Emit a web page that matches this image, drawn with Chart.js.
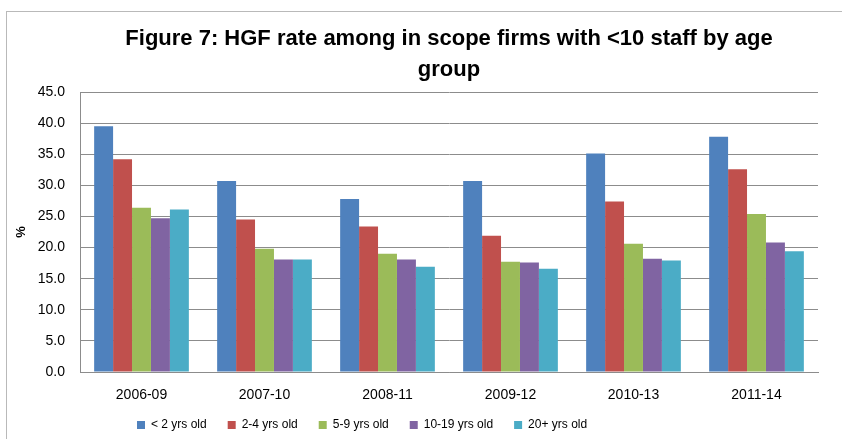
<!DOCTYPE html>
<html>
<head>
<meta charset="utf-8">
<script src="https://cdn.jsdelivr.net/npm/chart.js@4/dist/chart.umd.min.js"></script>
<style>
  html, body { margin: 0; padding: 0; background: #fff; }
  #frame {
    position: absolute; left: 6px; top: 11px;
    width: 836px; height: 428px;
    border-left: 1px solid #b9b9b9; border-top: 1px solid #b9b9b9;
  }
  #wrap { position: absolute; left: 0; top: 0; width: 835px; height: 427px; }
</style>
</head>
<body>
<div id="frame"><div id="wrap"><canvas id="grafico"></canvas></div></div>
<script>
// chart values
var periodos = ["2006-09", "2007-10", "2008-11", "2009-12", "2010-13", "2011-14"];
var menos2 = [39.5, 30.7, 27.8, 30.7, 35.1, 37.8];
var de2a4 = [34.2, 24.5, 23.4, 21.9, 27.4, 32.6];
var de5a9 = [26.4, 19.8, 19.0, 17.7, 20.6, 25.4];
var de10a19 = [24.7, 18.1, 18.1, 17.6, 18.2, 20.8];
var mais20 = [26.1, 18.1, 16.9, 16.6, 17.9, 19.4];
var titulo = ["Figure 7: HGF rate among in scope firms with <10 staff by age", "group"];

var sans = "'Liberation Sans', Arial, sans-serif";

// title centred over the plot area, like the spreadsheet does
var tituloPlugin = {
  id: "tituloPlugin",
  afterDraw: function(chart) {
    var ctx = chart.ctx;
    var meio = (chart.chartArea.left + chart.chartArea.right) / 2;
    ctx.save();
    ctx.fillStyle = "#000";
    ctx.font = "bold 22px " + sans;
    ctx.textAlign = "center";
    ctx.textBaseline = "alphabetic";
    ctx.fillText(titulo[0], meio, 33);
    ctx.fillText(titulo[1], meio, 64);
    ctx.restore();
  }
};

// legend sits left of centre and close under the axis labels in the original
var legendaPlugin = {
  id: "legendaPlugin",
  afterLayout: function(chart) {
    var lg = chart.legend;
    var w = lg.right - lg.left;
    var h = lg.bottom - lg.top;
    lg.left = 109;
    lg.right = lg.left + w;
    lg.top = 386;
    lg.bottom = lg.top + h;
  }
};

var ctx = document.getElementById("grafico").getContext("2d");
var myChart = new Chart(ctx, {
  type: "bar",
  data: {
    labels: periodos,
    datasets: [
      { label: "< 2 yrs old", data: menos2, backgroundColor: "#4f81bd" },
      { label: "2-4 yrs old", data: de2a4, backgroundColor: "#c0504d" },
      { label: "5-9 yrs old", data: de5a9, backgroundColor: "#9bbb59" },
      { label: "10-19 yrs old", data: de10a19, backgroundColor: "#8064a2" },
      { label: "20+ yrs old", data: mais20, backgroundColor: "#4bacc6" }
    ]
  },
  options: {
    responsive: true,
    maintainAspectRatio: false,
    animation: false,
    devicePixelRatio: 1,
    layout: { padding: { left: 0, right: 24, top: 80, bottom: -10 } },
    datasets: { bar: { categoryPercentage: 0.77, barPercentage: 1.0 } },
    plugins: {
      title: { display: false },
      tooltip: { enabled: false },
      legend: {
        position: "bottom",
        align: "start",
        labels: {
          boxWidth: 8, boxHeight: 8, padding: 21,
          color: "#000",
          font: { family: sans, size: 12 }
        }
      }
    },
    scales: {
      x: {
        grid: { display: false, drawTicks: false },
        border: { display: true, color: "#8c8c8c" },
        ticks: { color: "#000", padding: 15, font: { family: sans, size: 14 } },
        afterFit: function(scale) { scale.height = 34; }
      },
      y: {
        min: 0, max: 45,
        grid: { color: "#8c8c8c", drawTicks: false },
        border: { display: true, color: "#8c8c8c" },
        ticks: {
          stepSize: 5, color: "#000", padding: 15,
          font: { family: sans, size: 14 },
          callback: function(v) { return v.toFixed(1); }
        },
        title: { display: true, text: "%", color: "#000", padding: 7, font: { family: sans, size: 13, weight: "bold" } },
        afterFit: function(scale) { scale.width = 73; }
      }
    }
  },
  plugins: [tituloPlugin, legendaPlugin]
});
</script>
</body>
</html>
